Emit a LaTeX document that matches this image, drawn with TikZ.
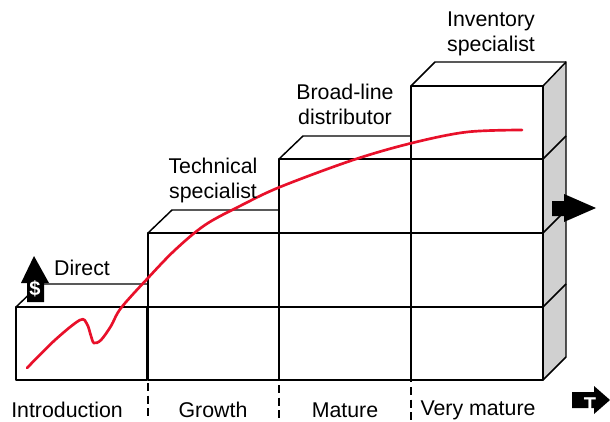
\documentclass[tikz,border=0pt]{standalone}
\usepackage{fontspec}
\setmainfont{Liberation Sans}
\definecolor{curvered}{RGB}{232,16,42}
\definecolor{sidegray}{RGB}{208,208,208}
\tikzset{
  box/.style={draw=black, line width=1.1pt, line join=round},
  phase/.style={draw=black, line width=1.1pt, dash pattern=on 6pt off 3.5pt},
  lbl/.style={font=\fontsize{16}{18.75}\selectfont, align=center, inner sep=0pt},
  icon/.style={fill=black},
  icontext/.style={text=white, font=\bfseries\fontsize{15}{15}\selectfont, inner sep=0pt}
}
\begin{document}
\begin{tikzpicture}[x=0.75pt,y=0.75pt,yscale=-1,xscale=1]
\useasboundingbox (0,0) rectangle (610,421);

% Introduction
 \draw [box]  (16,307) rectangle (147,380);
 \draw [box]  (16,307) -- (40,284) -- (147,284);

% Growth
 \draw [box]  (148,307) rectangle (279,380);
 \draw [box]  (148,233) rectangle (279,307);
 \draw [box]  (148,233) -- (172,210) -- (279,210);

% Mature
 \draw [box]  (279,307) rectangle (411,380);
 \draw [box]  (279,233) rectangle (411,307);
 \draw [box]  (279,159) rectangle (411,233);
 \draw [box]  (279,159) -- (303,136) -- (411,136);

% Very mature
 \draw [box, fill=sidegray]  (543,86) -- (566,62) -- (566,357) -- (543,380) -- cycle;
 \draw [box]  (411,307) rectangle (543,380);
 \draw [box]  (411,233) rectangle (543,307);
 \draw [box]  (411,159) rectangle (543,233);
 \draw [box]  (411,86) rectangle (543,159);
 \draw [box]  (411,86) -- (435,62) -- (566,62);
 \draw [box]  (543,159) -- (566,136);
 \draw [box]  (543,233) -- (566,210);
 \draw [box]  (543,307) -- (566,284);

% phase borders
 \draw [phase]  (148,307) -- (148,421);
 \draw [phase]  (279,233) -- (279,421);
 \draw [phase]  (411,159) -- (411,421);

% curve
 \draw [curvered, line width=2pt, line cap=round] plot [smooth, tension=0.55] coordinates
   {(27,368) (55,340) (80,320) (87,324) (91,336) (94,343) (101,340) (111,326) (121,308)
    (148,278) (175,250) (205,225) (240,206) (280,187) (353,160) (412,143) (467,132) (522,130)};

% $ arrow
 \fill [icon]  (34,256) -- (49,283) -- (44,283) -- (44,302) -- (27,302) -- (27,283) -- (21,283) -- cycle;
 \node [icontext] (dollar) at (35,289) {\$};

% T arrow
 \fill [icon]  (572,392) -- (594,392) -- (594,386) -- (610,400) -- (594,414) -- (594,408) -- (572,408) -- cycle;
 \node [icontext] (time) at (590,405) {T};

% sales arrow
 \fill [icon]  (552,201) -- (564,201) -- (564,194) -- (596,208) -- (564,222) -- (564,216) -- (552,216) -- cycle;

 \draw (82,268) node [lbl] (direct) {Direct};
 \draw (213,180) node [lbl] (technical) {Technical\\specialist};
 \draw (345,104) node [lbl] (broadline) {Broad-line\\distributor};
 \draw (491,34) node [lbl] (inventory) {Inventory\\specialist};

 \draw (67,410) node [lbl] (intro) {Introduction};
 \draw (213,410) node [lbl] (growth) {Growth};
 \draw (345,410) node [lbl] (mature) {Mature};
 \draw (478,410) node [lbl] (verymature) {Very mature};

\end{tikzpicture}
\end{document}
